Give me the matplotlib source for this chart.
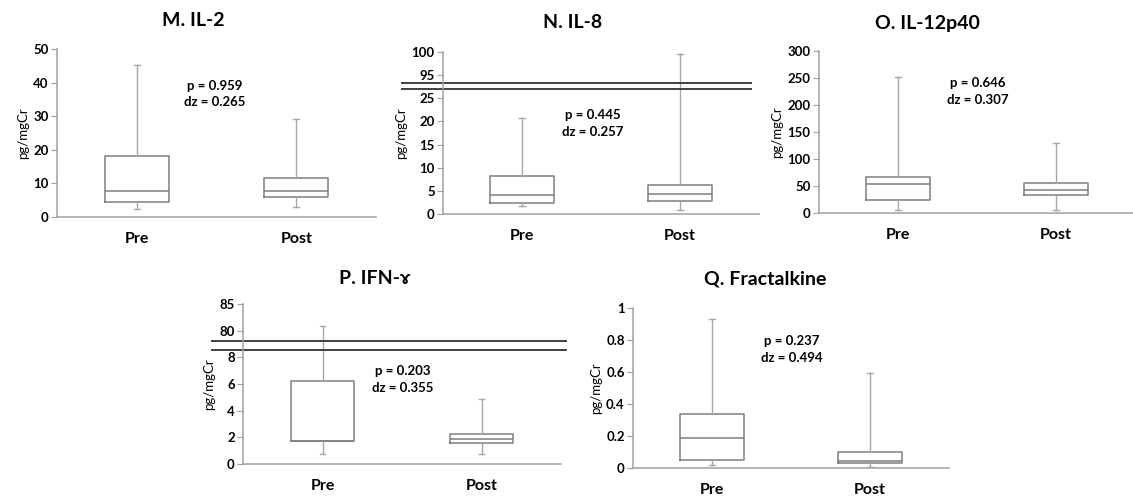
import numpy as np
import matplotlib
matplotlib.use('Agg')
import matplotlib.pyplot as plt

plt.rcParams['font.family'] = ['Lato', 'DejaVu Sans']
plt.rcParams['font.weight'] = 'bold'

# box stats: [whisker low, Q1, median, Q3, whisker high]
groups = ['Pre', 'Post']

il2_pre = [2.3, 4.4, 7.7, 18.2, 45.2]
il2_post = [2.9, 5.9, 7.7, 11.5, 29.2]

il8_pre = [1.7, 2.4, 4.1, 8.3, 20.7]
il8_post = [0.9, 2.7, 4.4, 6.25, 99.6]

il12_pre = [6, 24, 53.5, 66, 251]
il12_post = [6, 33.5, 42.5, 55.5, 129]

ifn_pre = [0.75, 1.72, 1.72, 6.25, 80.9]
ifn_post = [0.77, 1.55, 1.9, 2.24, 4.86]

frac_pre = [0.021, 0.05, 0.189, 0.338, 0.93]
frac_post = [0.006, 0.031, 0.044, 0.098, 0.595]

titles = ['M. IL-2', 'N. IL-8', 'O. IL-12p40', 'P. IFN-ɤ', 'Q. Fractalkine']
p_vals = ['0.959', '0.445', '0.646', '0.203', '0.237']
dz_vals = ['0.265', '0.257', '0.307', '0.355', '0.494']

W, H = 1133, 500
fig = plt.figure(figsize=(W / 100, H / 100), dpi=100)


def rect(x0, x1, ytop, ybot):
    return [x0 / W, 1 - ybot / H, (x1 - x0) / W, (ybot - ytop) / H]


def broken(lo_top, hi_bot, k_lo, k_hi, gap):
    base = lo_top * k_lo

    def fwd(y):
        y = np.asarray(y, dtype=float)
        mid = base + (y - lo_top) / (hi_bot - lo_top) * gap
        return np.where(y <= lo_top, y * k_lo,
                        np.where(y >= hi_bot, base + gap + (y - hi_bot) * k_hi, mid))

    def inv(v):
        v = np.asarray(v, dtype=float)
        mid = lo_top + (v - base) / gap * (hi_bot - lo_top)
        return np.where(v <= base, v / k_lo,
                        np.where(v >= base + gap, hi_bot + (v - base - gap) / k_hi, mid))
    return fwd, inv


def stats(v, label):
    return dict(whislo=v[0], q1=v[1], med=v[2], q3=v[3], whishi=v[4], label=label)


def panel(r, pre, post, title, tpos, p, dz, apos, yticks, ylim, ticklabels=None):
    ax = fig.add_axes(r)
    ax.bxp([stats(pre, groups[0]), stats(post, groups[1])], positions=[0.5, 1.5],
           widths=0.4, capwidths=0.035, showfliers=False,
           boxprops=dict(color='#7f7f7f', lw=1.1),
           medianprops=dict(color='#7f7f7f', lw=1.1),
           whiskerprops=dict(color='#a6a6a6', lw=1.0),
           capprops=dict(color='#a6a6a6', lw=1.0))
    ax.set_xlim(0, 2)
    ax.set_ylim(*ylim)
    ax.set_yticks(yticks)
    if ticklabels:
        ax.set_yticklabels(ticklabels)
    ax.set_xticks([0.5, 1.5])
    ax.set_xticklabels(groups, fontsize=11.5)
    ax.tick_params(axis='x', length=0, pad=11)
    ax.tick_params(axis='y', length=4, color='#a0a0a0', labelsize=9.5, pad=2)
    for s in ['top', 'right']:
        ax.spines[s].set_visible(False)
    for s in ['left', 'bottom']:
        ax.spines[s].set_color('#a0a0a0')
        ax.spines[s].set_linewidth(1.1)
    ax.set_ylabel('pg/mgCr', fontsize=9.5, labelpad=3)
    fig.text(tpos[0] / W, 1 - tpos[1] / H, title, ha='center', va='center', fontsize=14)
    fig.text(apos[0] / W, 1 - apos[1] / H, 'p = ' + p, ha='center', va='center', fontsize=9.5)
    fig.text(apos[0] / W, 1 - (apos[1] + 16.5) / H, 'dz = ' + dz, ha='center', va='center', fontsize=9.5)
    return ax


def break_lines(ax, y1, y2, x0, x1):
    for y in (y1, y2):
        ax.plot([x0, x1], [y, y], color='#404040', lw=1.4,
                transform=ax.get_yaxis_transform(), clip_on=False)


# M. IL-2
panel(rect(57, 376, 49, 217), il2_pre, il2_post, titles[0], (193, 20),
      p_vals[0], dz_vals[0], (215, 86), np.arange(0, 51, 10), (0, 50))

# N. IL-8 (broken axis)
ax = panel(rect(443, 759, 52, 214), il8_pre, il8_post, titles[1], (573, 23),
           p_vals[1], dz_vals[1], (593, 115), [0, 5, 10, 15, 20, 25, 95, 100], (0, 100))
ax.set_yscale('function', functions=broken(26.9, 93.3, 4.64, 4.6, 6.6))
ax.set_yticks([0, 5, 10, 15, 20, 25, 95, 100])
ax.set_yticks([], minor=True)
ax.set_ylim(0, 100)
break_lines(ax, 26.9, 93.3, -0.13, 0.975)

# O. IL-12p40
panel(rect(819, 1135, 51, 213), il12_pre, il12_post, titles[2], (927, 23),
      p_vals[2], dz_vals[2], (978, 83), np.arange(0, 301, 50), (0, 300))

# P. IFN (broken axis)
ax = panel(rect(243, 561, 304, 464), ifn_pre, ifn_post, titles[3], (375, 278),
           p_vals[3], dz_vals[3], (403, 371), [0, 2, 4, 6, 8, 80, 85], (0, 85))
ax.set_yscale('function', functions=broken(8.52, 78.1, 13.375, 5.4, 9))
ax.set_yticks([0, 2, 4, 6, 8, 80, 85])
ax.set_yticks([], minor=True)
ax.set_ylim(0, 85)
break_lines(ax, 8.52, 78.1, -0.098, 1.017)

# Q. Fractalkine
panel(rect(633, 949, 308, 468), frac_pre, frac_post, titles[4], (765, 279),
      p_vals[4], dz_vals[4], (792, 341), [0, 0.2, 0.4, 0.6, 0.8, 1], (0, 1),
      ['0', '0.2', '0.4', '0.6', '0.8', '1'])

fig.savefig('out.png', dpi=100)
